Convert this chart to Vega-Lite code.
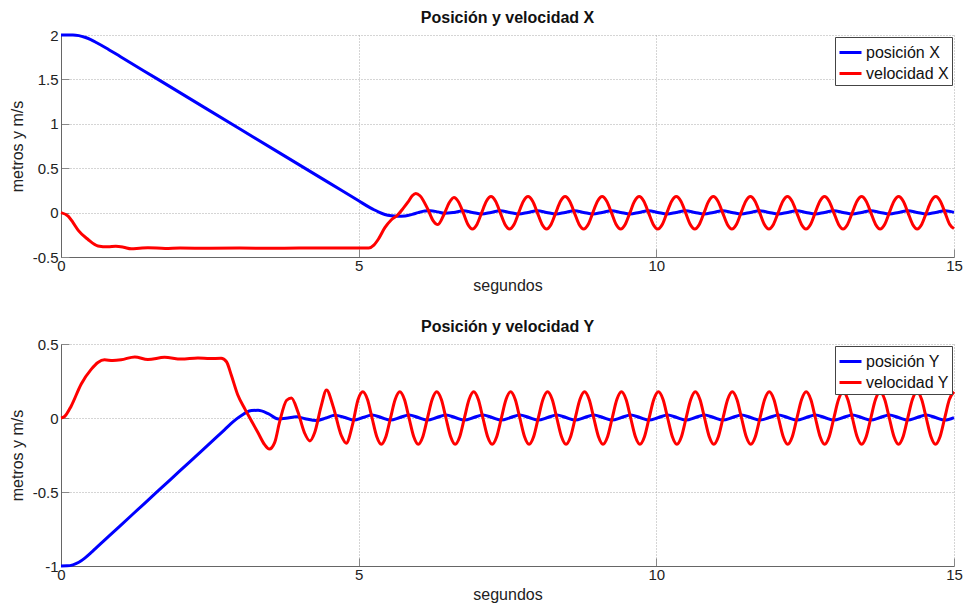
{
"$schema": "https://vega.github.io/schema/vega-lite/v6.json",
"background": "white",
"padding": {"left": 9, "top": 10, "right": 5, "bottom": 3},
"config": {
  "font": "Liberation Sans",
  "view": {"stroke": null},
  "axis": {"labelFont": "Liberation Sans", "labelFontSize": 15, "labelColor": "#222", "titleFont": "Liberation Sans", "titleFontSize": 16, "titleFontWeight": "normal", "titleColor": "#222", "domainColor": "#666", "tickColor": "#888", "tickSize": -8, "gridColor": "#aaaaaa", "gridDash": [1, 2], "labelFlush": false, "labelOverlap": false, "labelBound": false},
  "axisX": {"labelPadding": 9, "titlePadding": 4},
  "axisY": {"labelPadding": 11, "titlePadding": 7},
  "title": {"font": "Liberation Sans", "fontSize": 16, "fontWeight": "bold", "color": "#111", "offset": 2},
  "legend": {"orient": "top-right", "offset": 2, "padding": 3, "strokeColor": "#444", "fillColor": "white", "symbolType": "stroke", "symbolSize": 484, "symbolStrokeWidth": 3, "labelFont": "Liberation Sans", "labelFontSize": 16, "labelColor": "#111", "labelOffset": 3, "rowPadding": -2, "title": null},
  "concat": {"spacing": 26}
},
"datasets": {
"px": [{"t":0,"v":2},{"t":0.2,"v":2},{"t":0.3,"v":1.993},{"t":0.4,"v":1.975},{"t":0.5,"v":1.948},{"t":0.6,"v":1.913},{"t":0.75,"v":1.857},{"t":1,"v":1.755},{"t":1.63,"v":1.5},{"t":3,"v":0.944},{"t":4.49,"v":0.34},{"t":5,"v":0.133},{"t":5.19,"v":0.056},{"t":5.25,"v":0.035},{"t":5.33,"v":0.008},{"t":5.44,"v":-0.022},{"t":5.55,"v":-0.036},{"t":5.65,"v":-0.041},{"t":5.78,"v":-0.037},{"t":5.9,"v":-0.02},{"t":6.0,"v":0.0},{"t":6.11,"v":0.017},{"t":6.2,"v":0.02},{"t":6.33,"v":0.008},{"t":6.44,"v":-0.008},{"t":6.6,"v":0.002},
{"t":6.756,"v":0.02},{"t":6.911,"v":0.002},{"t":7.067,"v":-0.016},{"t":7.223,"v":0.002},{"t":7.378,"v":0.02},{"t":7.534,"v":0.002},{"t":7.689,"v":-0.016},{"t":7.845,"v":0.002},{"t":8.001,"v":0.02},{"t":8.156,"v":0.002},{"t":8.312,"v":-0.016},{"t":8.468,"v":0.002},{"t":8.623,"v":0.02},{"t":8.779,"v":0.002},{"t":8.934,"v":-0.016},{"t":9.09,"v":0.002},{"t":9.246,"v":0.02},{"t":9.401,"v":0.002},{"t":9.557,"v":-0.016},{"t":9.713,"v":0.002},{"t":9.868,"v":0.02},{"t":10.024,"v":0.002},{"t":10.179,"v":-0.016},{"t":10.335,"v":0.002},{"t":10.491,"v":0.02},{"t":10.646,"v":0.002},{"t":10.802,"v":-0.016},{"t":10.958,"v":0.002},{"t":11.113,"v":0.02},{"t":11.269,"v":0.002},{"t":11.424,"v":-0.016},{"t":11.58,"v":0.002},{"t":11.736,"v":0.02},{"t":11.891,"v":0.002},{"t":12.047,"v":-0.016},{"t":12.203,"v":0.002},{"t":12.358,"v":0.02},{"t":12.514,"v":0.002},{"t":12.669,"v":-0.016},{"t":12.825,"v":0.002},{"t":12.981,"v":0.02},{"t":13.136,"v":0.002},{"t":13.292,"v":-0.016},{"t":13.448,"v":0.002},{"t":13.603,"v":0.02},{"t":13.759,"v":0.002},{"t":13.914,"v":-0.016},{"t":14.07,"v":0.002},{"t":14.226,"v":0.02},{"t":14.381,"v":0.002},{"t":14.537,"v":-0.016},{"t":14.693,"v":0.002},{"t":14.849,"v":0.02},{"t":15,"v":0.002}],
"vx": [{"t":0,"v":0},{"t":0.12,"v":-0.04},{"t":0.2,"v":-0.11},{"t":0.29,"v":-0.2},{"t":0.45,"v":-0.3},{"t":0.62,"v":-0.375},{"t":0.79,"v":-0.385},{"t":0.92,"v":-0.38},{"t":1.05,"v":-0.39},{"t":1.18,"v":-0.408},{"t":1.32,"v":-0.401},{"t":1.46,"v":-0.395},{"t":1.75,"v":-0.405},{"t":2,"v":-0.4},{"t":2.5,"v":-0.402},{"t":3,"v":-0.4},{"t":3.5,"v":-0.401},{"t":4,"v":-0.4},{"t":4.5,"v":-0.4},{"t":5,"v":-0.4},{"t":5.17,"v":-0.4},{"t":5.25,"v":-0.37},{"t":5.33,"v":-0.3},{"t":5.44,"v":-0.17},{"t":5.55,"v":-0.08},{"t":5.65,"v":-0.03},{"t":5.75,"v":0.05},{"t":5.83,"v":0.12},{"t":5.9,"v":0.19},{"t":5.96,"v":0.215},{"t":6.03,"v":0.19},{"t":6.16,"v":0.04},{"t":6.25,"v":-0.09},{"t":6.33,"v":-0.135},{"t":6.44,"v":-0.01},{"t":6.52,"v":0.11},{"t":6.6,"v":0.17},
{"t":6.678,"v":0.12},{"t":6.756,"v":0},{"t":6.833,"v":-0.13},{"t":6.911,"v":-0.185},{"t":6.989,"v":-0.13},{"t":7.067,"v":0},{"t":7.145,"v":0.127},
{"t":7.223,"v":0.18},{"t":7.3,"v":0.127},{"t":7.378,"v":0},{"t":7.456,"v":-0.13},{"t":7.534,"v":-0.185},{"t":7.612,"v":-0.13},{"t":7.689,"v":0},{"t":7.767,"v":0.127},
{"t":7.845,"v":0.18},{"t":7.923,"v":0.127},{"t":8.001,"v":0},{"t":8.079,"v":-0.13},{"t":8.156,"v":-0.185},{"t":8.234,"v":-0.13},{"t":8.312,"v":0},{"t":8.39,"v":0.127},
{"t":8.468,"v":0.18},{"t":8.545,"v":0.127},{"t":8.623,"v":0},{"t":8.701,"v":-0.13},{"t":8.779,"v":-0.185},{"t":8.857,"v":-0.13},{"t":8.934,"v":0},{"t":9.012,"v":0.127},
{"t":9.09,"v":0.18},{"t":9.167,"v":0.127},{"t":9.246,"v":0},{"t":9.323,"v":-0.13},{"t":9.401,"v":-0.185},{"t":9.479,"v":-0.13},{"t":9.557,"v":0},{"t":9.634,"v":0.127},
{"t":9.713,"v":0.18},{"t":9.79,"v":0.127},{"t":9.868,"v":0},{"t":9.946,"v":-0.13},{"t":10.024,"v":-0.185},{"t":10.102,"v":-0.13},{"t":10.179,"v":0},{"t":10.257,"v":0.127},
{"t":10.335,"v":0.18},{"t":10.413,"v":0.127},{"t":10.491,"v":0},{"t":10.568,"v":-0.13},{"t":10.646,"v":-0.185},{"t":10.724,"v":-0.13},{"t":10.802,"v":0},{"t":10.879,"v":0.127},
{"t":10.958,"v":0.18},{"t":11.035,"v":0.127},{"t":11.113,"v":0},{"t":11.191,"v":-0.13},{"t":11.269,"v":-0.185},{"t":11.347,"v":-0.13},{"t":11.424,"v":0},{"t":11.502,"v":0.127},
{"t":11.58,"v":0.18},{"t":11.658,"v":0.127},{"t":11.736,"v":0},{"t":11.813,"v":-0.13},{"t":11.891,"v":-0.185},{"t":11.969,"v":-0.13},{"t":12.047,"v":0},{"t":12.125,"v":0.127},
{"t":12.203,"v":0.18},{"t":12.28,"v":0.127},{"t":12.358,"v":0},{"t":12.436,"v":-0.13},{"t":12.514,"v":-0.185},{"t":12.592,"v":-0.13},{"t":12.669,"v":0},{"t":12.747,"v":0.127},
{"t":12.825,"v":0.18},{"t":12.903,"v":0.127},{"t":12.981,"v":0},{"t":13.059,"v":-0.13},{"t":13.136,"v":-0.185},{"t":13.214,"v":-0.13},{"t":13.292,"v":0},{"t":13.37,"v":0.127},
{"t":13.448,"v":0.18},{"t":13.525,"v":0.127},{"t":13.603,"v":0},{"t":13.681,"v":-0.13},{"t":13.759,"v":-0.185},{"t":13.837,"v":-0.13},{"t":13.914,"v":0},{"t":13.992,"v":0.127},
{"t":14.07,"v":0.18},{"t":14.148,"v":0.127},{"t":14.226,"v":0},{"t":14.304,"v":-0.13},{"t":14.381,"v":-0.185},{"t":14.459,"v":-0.13},{"t":14.537,"v":0},{"t":14.615,"v":0.127},
{"t":14.693,"v":0.18},{"t":14.771,"v":0.127},{"t":14.849,"v":0},{"t":14.926,"v":-0.13},{"t":15,"v":-0.18}],
"py": [{"t":0,"v":-1},{"t":0.1,"v":-0.999},{"t":0.2,"v":-0.992},{"t":0.3,"v":-0.975},{"t":0.4,"v":-0.947},{"t":0.5,"v":-0.912},{"t":0.6,"v":-0.874},{"t":0.7,"v":-0.837},{"t":0.8,"v":-0.8},{"t":1.2,"v":-0.652},{"t":1.63,"v":-0.493},{"t":2.0,"v":-0.356},{"t":2.4,"v":-0.208},{"t":2.64,"v":-0.119},{"t":2.75,"v":-0.078},{"t":2.85,"v":-0.04},{"t":2.95,"v":-0.006},{"t":3.05,"v":0.022},{"t":3.12,"v":0.04},{"t":3.2,"v":0.05},{"t":3.31,"v":0.052},{"t":3.48,"v":0.03},{"t":3.65,"v":-0.006},{"t":3.81,"v":0.0},{"t":3.95,"v":0.008},{"t":4.1,"v":-0.005},{"t":4.29,"v":-0.017},{"t":4.45,"v":0.0},{"t":4.6,"v":0.018},{"t":4.77,"v":0.003},{"t":4.92,"v":-0.014},{"t":5.07,"v":0.003},
{"t":5.225,"v":0.02},{"t":5.38,"v":0.003},{"t":5.535,"v":-0.014},{"t":5.691,"v":0.003},{"t":5.846,"v":0.02},{"t":6.001,"v":0.003},{"t":6.156,"v":-0.014},{"t":6.311,"v":0.003},{"t":6.466,"v":0.02},{"t":6.621,"v":0.003},{"t":6.776,"v":-0.014},{"t":6.932,"v":0.003},{"t":7.087,"v":0.02},{"t":7.242,"v":0.003},{"t":7.397,"v":-0.014},{"t":7.552,"v":0.003},{"t":7.707,"v":0.02},{"t":7.862,"v":0.003},{"t":8.017,"v":-0.014},{"t":8.173,"v":0.003},{"t":8.328,"v":0.02},{"t":8.483,"v":0.003},{"t":8.638,"v":-0.014},{"t":8.794,"v":0.003},{"t":8.949,"v":0.02},{"t":9.104,"v":0.003},{"t":9.259,"v":-0.014},{"t":9.414,"v":0.003},{"t":9.569,"v":0.02},{"t":9.724,"v":0.003},{"t":9.879,"v":-0.014},{"t":10.035,"v":0.003},{"t":10.19,"v":0.02},{"t":10.345,"v":0.003},{"t":10.5,"v":-0.014},{"t":10.655,"v":0.003},{"t":10.81,"v":0.02},{"t":10.965,"v":0.003},{"t":11.12,"v":-0.014},{"t":11.276,"v":0.003},{"t":11.431,"v":0.02},{"t":11.586,"v":0.003},{"t":11.741,"v":-0.014},{"t":11.897,"v":0.003},{"t":12.052,"v":0.02},{"t":12.207,"v":0.003},{"t":12.362,"v":-0.014},{"t":12.517,"v":0.003},{"t":12.672,"v":0.02},{"t":12.827,"v":0.003},{"t":12.982,"v":-0.014},{"t":13.138,"v":0.003},{"t":13.293,"v":0.02},{"t":13.448,"v":0.003},{"t":13.603,"v":-0.014},{"t":13.758,"v":0.003},{"t":13.913,"v":0.02},{"t":14.068,"v":0.003},{"t":14.223,"v":-0.014},{"t":14.379,"v":0.003},{"t":14.534,"v":0.02},{"t":14.689,"v":0.003},{"t":14.844,"v":-0.014},{"t":15,"v":0.003}],
"vy": [{"t":0,"v":0},{"t":0.06,"v":0.01},{"t":0.17,"v":0.08},{"t":0.34,"v":0.23},{"t":0.51,"v":0.33},{"t":0.62,"v":0.375},{"t":0.73,"v":0.393},{"t":0.87,"v":0.388},{"t":1.01,"v":0.393},{"t":1.24,"v":0.413},{"t":1.46,"v":0.395},{"t":1.74,"v":0.41},{"t":2.02,"v":0.398},{"t":2.3,"v":0.405},{"t":2.5,"v":0.402},{"t":2.69,"v":0.403},{"t":2.78,"v":0.38},{"t":2.86,"v":0.29},{"t":2.97,"v":0.155},{"t":3.09,"v":0.06},{"t":3.2,"v":-0.02},{"t":3.31,"v":-0.1},{"t":3.42,"v":-0.18},{"t":3.5,"v":-0.21},{"t":3.59,"v":-0.165},{"t":3.67,"v":-0.03},{"t":3.79,"v":0.12},{"t":3.87,"v":0.135},{"t":3.98,"v":0.04},{"t":4.09,"v":-0.1},{"t":4.18,"v":-0.155},{"t":4.26,"v":-0.1},{"t":4.37,"v":0.08},{"t":4.46,"v":0.19},{"t":4.57,"v":0.08},{"t":4.71,"v":-0.12},{"t":4.79,"v":-0.17},{"t":4.9,"v":-0.04},{"t":4.99,"v":0.125},
{"t":5.07,"v":0.177},{"t":5.148,"v":0.125},{"t":5.225,"v":0},{"t":5.303,"v":-0.125},{"t":5.38,"v":-0.177},{"t":5.458,"v":-0.125},{"t":5.535,"v":0},{"t":5.613,"v":0.125},
{"t":5.691,"v":0.177},{"t":5.769,"v":0.125},{"t":5.846,"v":0},{"t":5.924,"v":-0.125},{"t":6.001,"v":-0.177},{"t":6.079,"v":-0.125},{"t":6.156,"v":0},{"t":6.234,"v":0.125},
{"t":6.311,"v":0.177},{"t":6.389,"v":0.125},{"t":6.466,"v":0},{"t":6.544,"v":-0.125},{"t":6.621,"v":-0.177},{"t":6.699,"v":-0.125},{"t":6.776,"v":0},{"t":6.854,"v":0.125},
{"t":6.932,"v":0.177},{"t":7.01,"v":0.125},{"t":7.087,"v":0},{"t":7.165,"v":-0.125},{"t":7.242,"v":-0.177},{"t":7.32,"v":-0.125},{"t":7.397,"v":0},{"t":7.475,"v":0.125},
{"t":7.552,"v":0.177},{"t":7.63,"v":0.125},{"t":7.707,"v":0},{"t":7.785,"v":-0.125},{"t":7.862,"v":-0.177},{"t":7.94,"v":-0.125},{"t":8.017,"v":0},{"t":8.095,"v":0.125},
{"t":8.173,"v":0.177},{"t":8.251,"v":0.125},{"t":8.328,"v":0},{"t":8.406,"v":-0.125},{"t":8.483,"v":-0.177},{"t":8.561,"v":-0.125},{"t":8.638,"v":0},{"t":8.716,"v":0.125},
{"t":8.794,"v":0.177},{"t":8.872,"v":0.125},{"t":8.949,"v":0},{"t":9.027,"v":-0.125},{"t":9.104,"v":-0.177},{"t":9.182,"v":-0.125},{"t":9.259,"v":0},{"t":9.337,"v":0.125},
{"t":9.414,"v":0.177},{"t":9.492,"v":0.125},{"t":9.569,"v":0},{"t":9.647,"v":-0.125},{"t":9.724,"v":-0.177},{"t":9.802,"v":-0.125},{"t":9.879,"v":0},{"t":9.957,"v":0.125},
{"t":10.035,"v":0.177},{"t":10.113,"v":0.125},{"t":10.19,"v":0},{"t":10.268,"v":-0.125},{"t":10.345,"v":-0.177},{"t":10.423,"v":-0.125},{"t":10.5,"v":0},{"t":10.578,"v":0.125},
{"t":10.655,"v":0.177},{"t":10.733,"v":0.125},{"t":10.81,"v":0},{"t":10.888,"v":-0.125},{"t":10.965,"v":-0.177},{"t":11.043,"v":-0.125},{"t":11.12,"v":0},{"t":11.198,"v":0.125},
{"t":11.276,"v":0.177},{"t":11.354,"v":0.125},{"t":11.431,"v":0},{"t":11.509,"v":-0.125},{"t":11.586,"v":-0.177},{"t":11.664,"v":-0.125},{"t":11.741,"v":0},{"t":11.819,"v":0.125},
{"t":11.897,"v":0.177},{"t":11.975,"v":0.125},{"t":12.052,"v":0},{"t":12.13,"v":-0.125},{"t":12.207,"v":-0.177},{"t":12.285,"v":-0.125},{"t":12.362,"v":0},{"t":12.44,"v":0.125},
{"t":12.517,"v":0.177},{"t":12.595,"v":0.125},{"t":12.672,"v":0},{"t":12.75,"v":-0.125},{"t":12.827,"v":-0.177},{"t":12.905,"v":-0.125},{"t":12.982,"v":0},{"t":13.06,"v":0.125},
{"t":13.138,"v":0.177},{"t":13.216,"v":0.125},{"t":13.293,"v":0},{"t":13.371,"v":-0.125},{"t":13.448,"v":-0.177},{"t":13.526,"v":-0.125},{"t":13.603,"v":0},{"t":13.681,"v":0.125},
{"t":13.758,"v":0.177},{"t":13.836,"v":0.125},{"t":13.913,"v":0},{"t":13.991,"v":-0.125},{"t":14.068,"v":-0.177},{"t":14.146,"v":-0.125},{"t":14.223,"v":0},{"t":14.301,"v":0.125},
{"t":14.379,"v":0.177},{"t":14.457,"v":0.125},{"t":14.534,"v":0},{"t":14.612,"v":-0.125},{"t":14.689,"v":-0.177},{"t":14.767,"v":-0.125},{"t":14.844,"v":0},{"t":14.922,"v":0.125},
{"t":15,"v":0.177}]
},
"vconcat": [
 {
  "width": 893, "height": 222,
  "title": {"text": "Posición y velocidad X"},
  "encoding": {
    "x": {"field": "t", "type": "quantitative", "scale": {"domain": [0, 15], "nice": false, "zero": false}, "axis": {"values": [0, 5, 10, 15], "title": "segundos", "labelExpr": "'' + datum.value", "grid": true}},
    "y": {"field": "v", "type": "quantitative", "scale": {"domain": [-0.5, 2], "nice": false, "zero": false}, "axis": {"values": [-0.5, 0, 0.5, 1, 1.5, 2], "title": "metros y m/s", "labelExpr": "'' + datum.value", "grid": true}}
  },
  "layer": [
    {"data": {"name": "px"}, "mark": {"type": "line", "interpolate": "monotone", "strokeWidth": 3}, "encoding": {"color": {"datum": "posición X", "type": "nominal", "scale": {"domain": ["posición X", "velocidad X"], "range": ["#0000ff", "#ff0000"]}}}},
    {"data": {"name": "vx"}, "mark": {"type": "line", "interpolate": "monotone", "strokeWidth": 3}, "encoding": {"color": {"datum": "velocidad X", "type": "nominal"}}}
  ]
 },
 {
  "width": 893, "height": 222,
  "title": {"text": "Posición y velocidad Y"},
  "encoding": {
    "x": {"field": "t", "type": "quantitative", "scale": {"domain": [0, 15], "nice": false, "zero": false}, "axis": {"values": [0, 5, 10, 15], "title": "segundos", "labelExpr": "'' + datum.value", "grid": true}},
    "y": {"field": "v", "type": "quantitative", "scale": {"domain": [-1, 0.5], "nice": false, "zero": false}, "axis": {"values": [-1, -0.5, 0, 0.5], "title": "metros y m/s", "labelExpr": "'' + datum.value", "grid": true}}
  },
  "layer": [
    {"data": {"name": "py"}, "mark": {"type": "line", "interpolate": "monotone", "strokeWidth": 3}, "encoding": {"color": {"datum": "posición Y", "type": "nominal", "scale": {"domain": ["posición Y", "velocidad Y"], "range": ["#0000ff", "#ff0000"]}}}},
    {"data": {"name": "vy"}, "mark": {"type": "line", "interpolate": "monotone", "strokeWidth": 3}, "encoding": {"color": {"datum": "velocidad Y", "type": "nominal"}}}
  ]
 }
],
"resolve": {"scale": {"color": "independent"}, "legend": {"color": "independent"}}
}
